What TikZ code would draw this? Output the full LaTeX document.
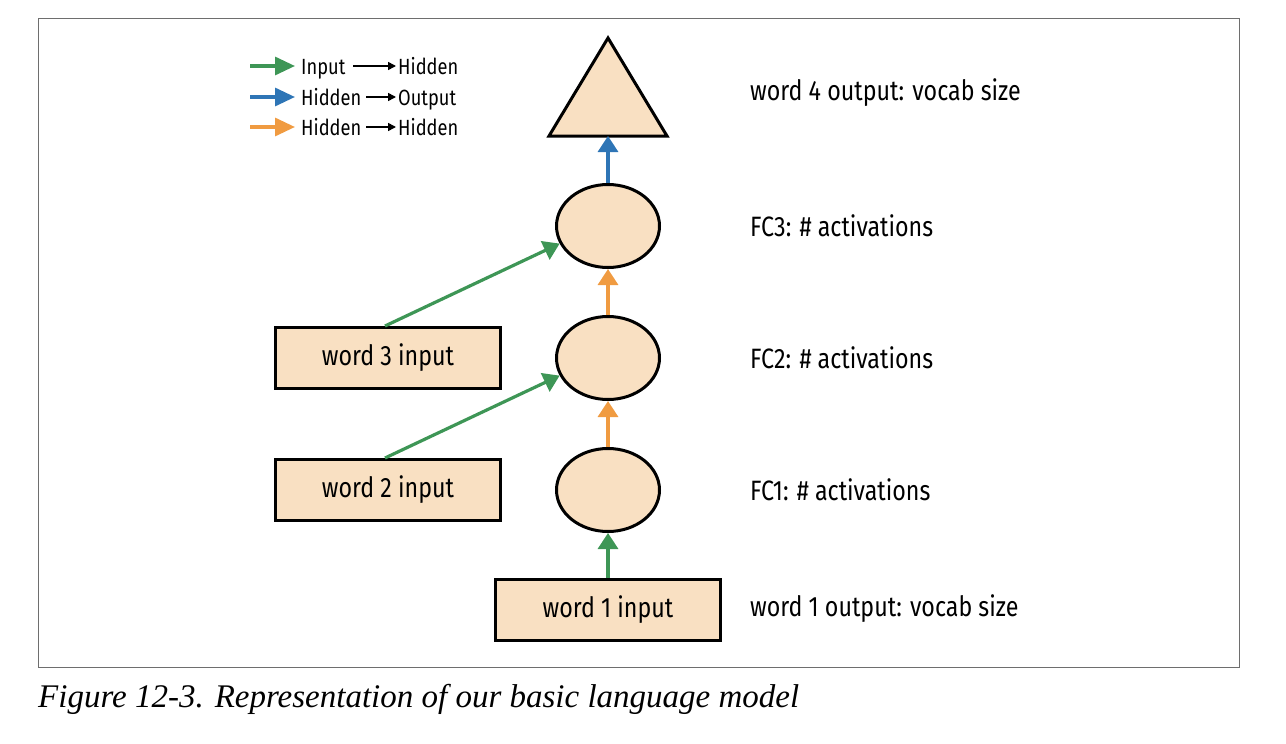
\documentclass[tikz,border=0pt]{standalone}
\usepackage{fontspec}
\setmainfont{Liberation Serif}
\newfontfamily\diag[FakeStretch=0.83]{Fira Sans}
\usetikzlibrary{arrows.meta,shapes.geometric}
\definecolor{peach}{RGB}{249,224,194}
\definecolor{garrow}{RGB}{62,150,86}
\definecolor{barrow}{RGB}{46,117,182}
\definecolor{oarrow}{RGB}{240,155,65}
\definecolor{frame}{RGB}{110,110,110}
\begin{document}
\begin{tikzpicture}[x=1pt,y=-1pt,
  box/.style={draw,line width=3pt,fill=peach,minimum width=225pt,minimum height=61pt,inner sep=0pt,font=\diag\fontsize{28}{32}\selectfont},
  hid/.style={ellipse,draw,line width=3pt,fill=peach,minimum width=103pt,minimum height=83pt,inner sep=0pt},
  lab/.style={anchor=west,inner sep=0pt,font=\diag\fontsize{28}{32}\selectfont},
  leg/.style={anchor=base west,inner sep=0pt,font=\diag\fontsize{22}{26}\selectfont},
  conn/.style={line width=3.2pt,-{Triangle[width=20pt,length=16pt]}},
  legarrow/.style={line width=3.2pt,-{Triangle[width=18pt,length=20pt]}},
  smallarrow/.style={line width=1.6pt,-{Triangle[width=8pt,length=8pt]}}
]
\useasboundingbox (0,0) rectangle (1286,744);
\draw[frame,line width=1pt] (38,18) rectangle (1239,667);

% output triangle
\draw[line width=3pt,fill=peach,line join=miter] (608,38) -- (667,136) -- (549,136) -- cycle;
\coordinate (tri) at (608,136);

% hidden layers
\node[hid] (fc3) at (608,226) {};
\node[hid] (fc2) at (608,358) {};
\node[hid] (fc1) at (608,490) {};

% inputs
\node[box] (w3) at (388,358) {word 3 input};
\node[box] (w2) at (388,490) {word 2 input};
\node[box] (w1) at (608,610) {word 1 input};

% connectors
\draw[conn,barrow] (fc3.north) -- (tri);
\draw[conn,oarrow] (fc2.north) -- (fc3.south);
\draw[conn,oarrow] (fc1.north) -- (fc2.south);
\draw[conn,garrow] (w1.north) -- (fc1.south);
\draw[conn,garrow] ([xshift=-3pt]w3.north) -- (fc3.200);
\draw[conn,garrow] ([xshift=-3pt]w2.north) -- (fc2.200);

% labels
\node[lab] (l4) at (750,93) {word 4 output: vocab size};
\node[lab] (l3) at (750,226) {FC3: \# activations};
\node[lab] (l2) at (750,358) {FC2: \# activations};
\node[lab] (l1) at (750,490) {FC1: \# activations};
\node[lab] (l0) at (750,609) {word 1 output: vocab size};

% legend
\coordinate (g0) at (250,66); \coordinate (g1) at (295,66);
\coordinate (b0) at (250,97); \coordinate (b1) at (295,97);
\coordinate (o0) at (250,127); \coordinate (o1) at (295,127);
\draw[legarrow,garrow] (g0) -- (g1);
\draw[legarrow,barrow] (b0) -- (b1);
\draw[legarrow,oarrow] (o0) -- (o1);
\node[leg] (ga) at (301,74) {Input};
\node[leg] (gb) at (398,74) {Hidden};
\node[leg] (ba) at (301,105) {Hidden};
\node[leg] (bb) at (398,105) {Output};
\node[leg] (oa) at (301,135) {Hidden};
\node[leg] (ob) at (398,135) {Hidden};
\coordinate (gs) at (353,66); \coordinate (ge) at (396,66);
\coordinate (bs) at (366,97); \coordinate (be) at (396,97);
\coordinate (os) at (366,127); \coordinate (oe) at (396,127);
\draw[smallarrow] (gs) -- (ge);
\draw[smallarrow] (bs) -- (be);
\draw[smallarrow] (os) -- (oe);

% caption
\node[anchor=base west,inner sep=0pt,font=\itshape\fontsize{33}{38}\selectfont] (cap) at (38,707) {Figure 12-3. Representation of our basic language model};
\end{tikzpicture}
\end{document}
